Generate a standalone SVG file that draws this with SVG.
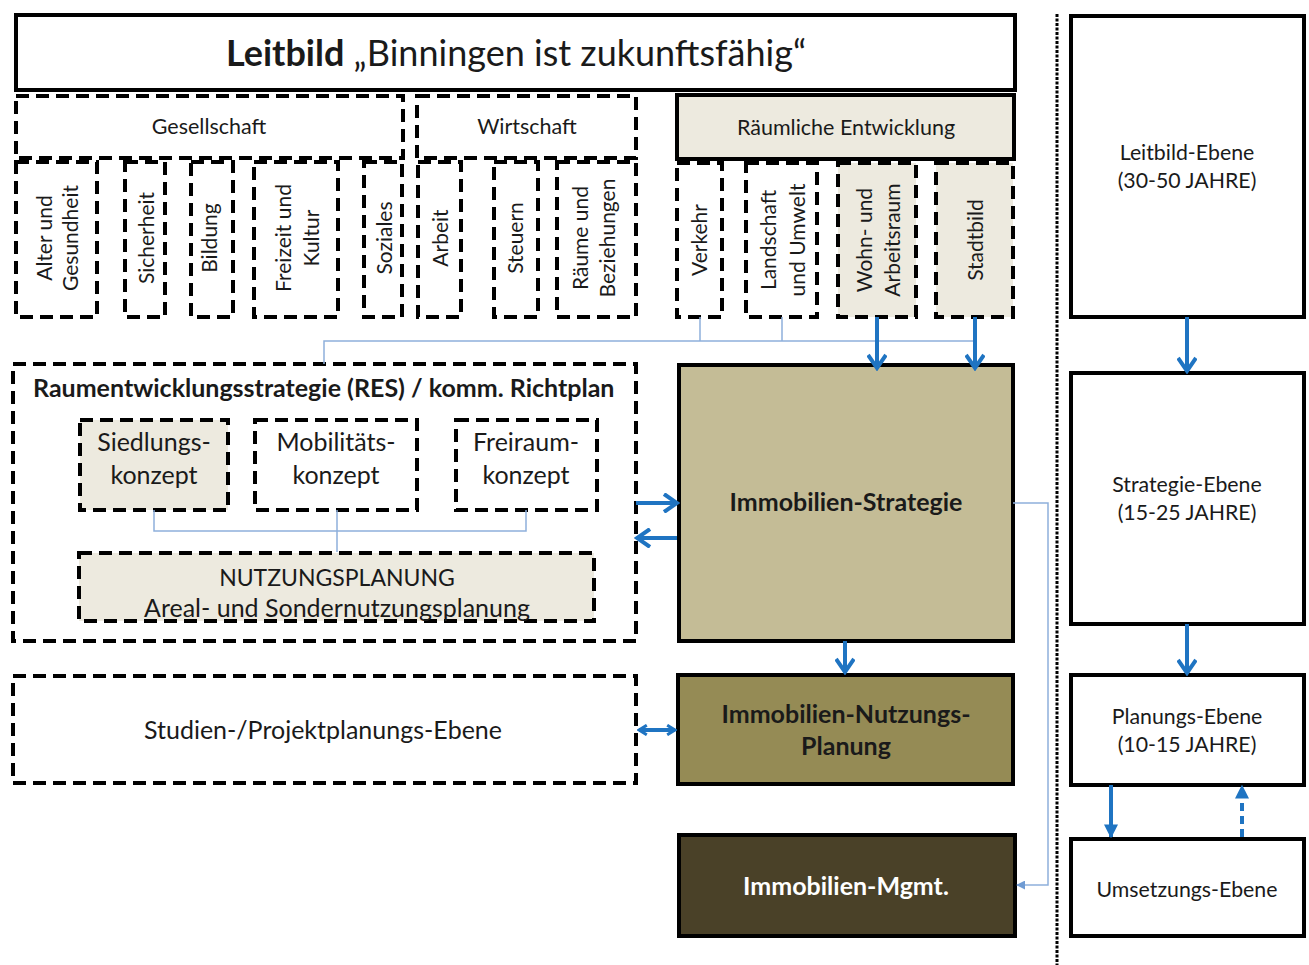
<svg xmlns="http://www.w3.org/2000/svg" width="1309" height="965" viewBox="0 0 1309 965">
<style>
text{font-family:Lato,"Liberation Sans",sans-serif;fill:#1a1a1a}
.t20{font-size:21.5px}
.v{font-size:21px;text-anchor:middle}
.t22{font-size:25px}
.t19{font-size:21.3px}
.c{text-anchor:middle}
.b{font-weight:bold}
.solid{stroke:#000;stroke-width:4;fill:#fff}
.dash{stroke:#000;stroke-width:4;fill:none;stroke-dasharray:13 7}
.beige{fill:#EDEADF}
.thin{stroke:#8EB0DC;stroke-width:1.5;fill:none}
.thick{stroke:#1F74C2;stroke-width:4;fill:none}
</style>
<defs>
<marker id="chev" viewBox="0 0 20 20" refX="17" refY="10" markerWidth="20" markerHeight="20" markerUnits="userSpaceOnUse" orient="auto">
<path d="M4,1 L17,10 L4,19" fill="none" stroke="#1F74C2" stroke-width="4"/>
</marker>
<marker id="chevs" viewBox="0 0 20 20" refX="17" refY="10" markerWidth="12" markerHeight="12" markerUnits="userSpaceOnUse" orient="auto-start-reverse">
<path d="M4,2 L17,10 L4,18" fill="none" stroke="#1F74C2" stroke-width="5"/>
</marker>
<marker id="tri" viewBox="0 0 10 10" refX="9" refY="5" markerWidth="14" markerHeight="14" markerUnits="userSpaceOnUse" orient="auto">
<path d="M0,0 L10,5 L0,10 Z" fill="#1F74C2"/>
</marker>
<marker id="tris" viewBox="0 0 10 10" refX="9" refY="5" markerWidth="9" markerHeight="9" markerUnits="userSpaceOnUse" orient="auto">
<path d="M0,0 L10,5 L0,10 Z" fill="#6F9BD3"/>
</marker>
</defs>
<rect width="1309" height="965" fill="#fff"/>

<g id="leitbild">
<rect class="solid" x="16" y="15" width="999" height="75"/>
<text x="516" y="66" class="c" font-size="36"><tspan font-weight="bold">Leitbild</tspan> „Binningen ist zukunftsfähig“</text>
</g>

<g id="gesellschaft">
<rect class="dash" x="16" y="96" width="387" height="62"/>
<text x="209" y="134" class="c t20">Gesellschaft</text>
</g>
<g id="wirtschaft">
<rect class="dash" x="417" y="96" width="219" height="62"/>
<text x="527" y="134" class="c t20">Wirtschaft</text>
</g>
<g id="raeumliche">
<rect class="solid beige" x="677" y="95" width="337" height="64"/>
<text x="846" y="135" class="c t20">Räumliche Entwicklung</text>
</g>

<g id="alter">
<rect class="dash" x="16" y="162" width="81" height="155"/>
<text class="v" x="52" y="238" transform="rotate(-90 52 238)">Alter und</text>
<text class="v" x="78" y="238" transform="rotate(-90 78 238)">Gesundheit</text>
</g>
<g id="sicherheit">
<rect class="dash" x="125" y="162" width="40" height="155"/>
<text class="v" x="154" y="238" transform="rotate(-90 154 238)">Sicherheit</text>
</g>
<g id="bildung">
<rect class="dash" x="191" y="162" width="42" height="155"/>
<text class="v" x="217" y="238" transform="rotate(-90 217 238)">Bildung</text>
</g>
<g id="freizeit">
<rect class="dash" x="254" y="162" width="84" height="155"/>
<text class="v" x="291" y="238" transform="rotate(-90 291 238)">Freizeit und</text>
<text class="v" x="319" y="238" transform="rotate(-90 319 238)">Kultur</text>
</g>
<g id="soziales">
<rect class="dash" x="364" y="162" width="38" height="155"/>
<text class="v" x="392" y="238" transform="rotate(-90 392 238)">Soziales</text>
</g>
<g id="arbeit">
<rect class="dash" x="418" y="162" width="43" height="155"/>
<text class="v" x="448" y="238" transform="rotate(-90 448 238)">Arbeit</text>
</g>
<g id="steuern">
<rect class="dash" x="494" y="162" width="44" height="155"/>
<text class="v" x="523" y="238" transform="rotate(-90 523 238)">Steuern</text>
</g>
<g id="raeume">
<rect class="dash" x="557" y="162" width="79" height="155"/>
<text class="v" x="588" y="238" transform="rotate(-90 588 238)">Räume und</text>
<text class="v" x="615" y="238" transform="rotate(-90 615 238)">Beziehungen</text>
</g>
<g id="verkehr">
<rect class="dash" x="677" y="163" width="45" height="154"/>
<text class="v" x="707" y="240" transform="rotate(-90 707 240)">Verkehr</text>
</g>
<g id="landschaft">
<rect class="dash" x="746" y="163" width="71" height="154"/>
<text class="v" x="776" y="240" transform="rotate(-90 776 240)">Landschaft</text>
<text class="v" x="805" y="240" transform="rotate(-90 805 240)">und Umwelt</text>
</g>
<g id="wohn">
<rect class="dash beige" x="838" y="163" width="78" height="154"/>
<text class="v" x="872" y="240" transform="rotate(-90 872 240)">Wohn- und</text>
<text class="v" x="900" y="240" transform="rotate(-90 900 240)">Arbeitsraum</text>
</g>
<g id="stadtbild">
<rect class="dash beige" x="936" y="163" width="77" height="154"/>
<text class="v" x="983" y="240" transform="rotate(-90 983 240)">Stadtbild</text>
</g>

<g id="res">
<rect class="dash" x="13" y="364" width="623" height="277"/>
<text x="33" y="397" class="t22 b">Raumentwicklungsstrategie (RES) / komm. Richtplan</text>
</g>
<g id="siedlung">
<rect class="dash beige" x="80" y="420" width="148" height="90"/>
<text x="154" y="451" class="c t22">Siedlungs-</text>
<text x="154" y="484" class="c t22">konzept</text>
</g>
<g id="mobilitaet">
<rect class="dash" x="255" y="420" width="162" height="90"/>
<text x="336" y="451" class="c t22">Mobilitäts-</text>
<text x="336" y="484" class="c t22">konzept</text>
</g>
<g id="freiraum">
<rect class="dash" x="456" y="420" width="141" height="90"/>
<text x="526" y="451" class="c t22">Freiraum-</text>
<text x="526" y="484" class="c t22">konzept</text>
</g>
<g id="nutzungsplanung">
<rect class="dash beige" x="79" y="553" width="515" height="68"/>
<text x="337" y="586" class="c" font-size="23">NUTZUNGSPLANUNG</text>
<text x="337" y="617" class="c t22">Areal- und Sondernutzungsplanung</text>
</g>
<g id="studien">
<rect class="dash" x="13" y="676" width="623" height="107"/>
<text x="323" y="739" class="c t22">Studien-/Projektplanungs-Ebene</text>
</g>

<g id="immo-strategie">
<rect x="679" y="365" width="334" height="276" fill="#C4BC96" stroke="#000" stroke-width="4"/>
<text x="846" y="511" class="c t22 b">Immobilien-Strategie</text>
</g>
<g id="immo-nutzung">
<rect x="678" y="675" width="335" height="109" fill="#958B55" stroke="#000" stroke-width="4"/>
<text x="846" y="723" class="c t22 b">Immobilien-Nutzungs-</text>
<text x="846" y="755" class="c t22 b">Planung</text>
</g>
<g id="immo-mgmt">
<rect x="679" y="835" width="336" height="101" fill="#4A4128" stroke="#000" stroke-width="4"/>
<text x="846" y="895" class="c t22 b" style="fill:#fff">Immobilien-Mgmt.</text>
</g>

<g id="leitbild-ebene">
<rect class="solid" x="1071" y="16" width="233" height="301"/>
<text x="1187" y="160" class="c t19">Leitbild-Ebene</text>
<text x="1187" y="188" class="c t19">(30-50 JAHRE)</text>
</g>
<g id="strategie-ebene">
<rect class="solid" x="1071" y="373" width="233" height="251"/>
<text x="1187" y="492" class="c t19">Strategie-Ebene</text>
<text x="1187" y="520" class="c t19">(15-25 JAHRE)</text>
</g>
<g id="planungs-ebene">
<rect class="solid" x="1071" y="675" width="233" height="110"/>
<text x="1187" y="724" class="c t19">Planungs-Ebene</text>
<text x="1187" y="752" class="c t19">(10-15 JAHRE)</text>
</g>
<g id="umsetzungs-ebene">
<rect class="solid" x="1071" y="839" width="233" height="97"/>
<text x="1187" y="897" class="c t19">Umsetzungs-Ebene</text>
</g>

<g id="connectors">
<line x1="1057" y1="14" x2="1057" y2="965" stroke="#000" stroke-width="3" stroke-dasharray="3 1.5"/>
<path class="thin" d="M700,317 V341 M782,317 V341 M324,364 V341 H975"/>
<path class="thin" d="M154,510 V531 H526 V510 M337,510 V552"/>
<path class="thin" d="M1013,503 H1048 V885 H1017" stroke="#6F9BD3" marker-end="url(#tris)"/>
<path class="thick" d="M877,317 V368" marker-end="url(#chev)"/>
<path class="thick" d="M975,317 V368" marker-end="url(#chev)"/>
<path class="thick" d="M636,503 H677" marker-end="url(#chev)"/>
<path class="thick" d="M677,538 H637" marker-end="url(#chev)"/>
<path class="thick" d="M845,641 V672" marker-end="url(#chev)"/>
<path class="thick" d="M639,730 H675" stroke-width="3" marker-start="url(#chevs)" marker-end="url(#chevs)"/>
<path class="thick" d="M1187,317 V371" marker-end="url(#chev)"/>
<path class="thick" d="M1187,624 V673" marker-end="url(#chev)"/>
<path class="thick" d="M1111,785 V837" marker-end="url(#tri)"/>
<path class="thick" d="M1242,837 V786" stroke-dasharray="8 5" marker-end="url(#tri)"/>
</g>
</svg>
